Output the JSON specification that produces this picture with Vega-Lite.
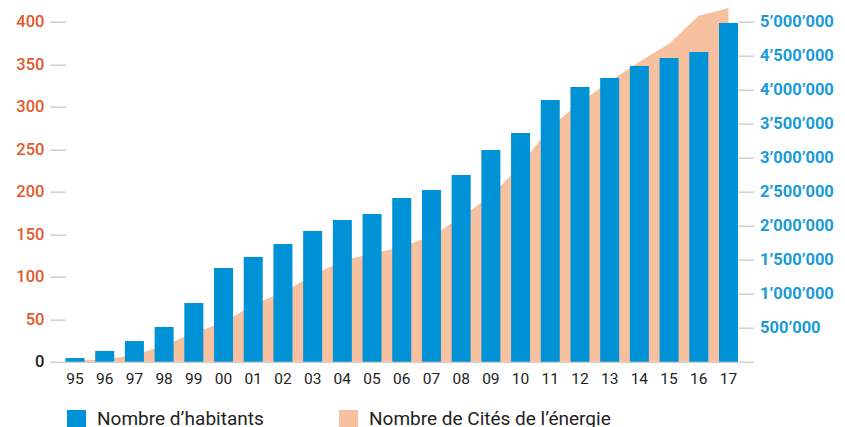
{
  "$schema": "https://vega.github.io/schema/vega-lite/v6.json",
  "width": 672.5,
  "height": 340,
  "autosize": {"type": "none"},
  "padding": {"left": 65.5, "top": 21.7, "right": 107, "bottom": 65.3},
  "background": "white",
  "data": {
    "values": [
      {"annee": "95", "habitants": 54000, "cites": 1},
      {"annee": "96", "habitants": 157000, "cites": 3},
      {"annee": "97", "habitants": 304000, "cites": 8},
      {"annee": "98", "habitants": 510000, "cites": 19},
      {"annee": "99", "habitants": 863000, "cites": 34},
      {"annee": "00", "habitants": 1378000, "cites": 46},
      {"annee": "01", "habitants": 1540000, "cites": 67},
      {"annee": "02", "habitants": 1731000, "cites": 82},
      {"annee": "03", "habitants": 1922000, "cites": 101},
      {"annee": "04", "habitants": 2084000, "cites": 119},
      {"annee": "05", "habitants": 2172000, "cites": 127},
      {"annee": "06", "habitants": 2407000, "cites": 135},
      {"annee": "07", "habitants": 2525000, "cites": 148},
      {"annee": "08", "habitants": 2746000, "cites": 170},
      {"annee": "09", "habitants": 3113000, "cites": 195},
      {"annee": "10", "habitants": 3363000, "cites": 231},
      {"annee": "11", "habitants": 3849000, "cites": 276},
      {"annee": "12", "habitants": 4040000, "cites": 305},
      {"annee": "13", "habitants": 4172000, "cites": 330},
      {"annee": "14", "habitants": 4349000, "cites": 353},
      {"annee": "15", "habitants": 4466000, "cites": 374},
      {"annee": "16", "habitants": 4554000, "cites": 407},
      {"annee": "17", "habitants": 4981000, "cites": 416}
    ]
  },
  "encoding": {
    "x": {
      "field": "annee",
      "type": "ordinal",
      "sort": null,
      "scale": {"paddingInner": 0.36, "paddingOuter": 0},
      "axis": {
        "title": null,
        "labelAngle": 0,
        "ticks": false,
        "domainColor": "#cfcfcf",
        "domainWidth": 1.5,
        "labelFont": "Roboto",
        "labelFontSize": 15.5,
        "labelColor": "#222222",
        "labelPadding": 10
      }
    }
  },
  "layer": [
    {
      "mark": {"type": "area", "interpolate": "linear"},
      "encoding": {
        "y": {
          "field": "cites",
          "type": "quantitative",
          "scale": {"domain": [0, 400], "nice": false},
          "axis": {
            "title": null,
            "orient": "left",
            "values": [0, 50, 100, 150, 200, 250, 300, 350, 400],
            "grid": false,
            "domain": false,
            "tickSize": 15.5,
            "tickColor": "#cfcfcf",
            "tickWidth": 1.5,
            "labelPadding": 6,
            "labelFont": "Roboto",
            "labelFontSize": 16.5,
            "labelFontWeight": 500,
            "labelColor": {"condition": {"test": "datum.value == 0", "value": "#222222"}, "value": "#E2582B"}
          }
        },
        "color": {
          "datum": "Nombre de Cités de l’énergie",
          "scale": {
            "domain": ["Nombre d’habitants", "Nombre de Cités de l’énergie"],
            "range": ["#0092D6", "#F7C1A0"]
          }
        }
      }
    },
    {
      "mark": {"type": "bar"},
      "encoding": {
        "y": {
          "field": "habitants",
          "type": "quantitative",
          "scale": {"domain": [0, 5000000], "nice": false},
          "axis": {
            "title": null,
            "orient": "right",
            "values": [0, 500000, 1000000, 1500000, 2000000, 2500000, 3000000, 3500000, 4000000, 4500000, 5000000],
            "grid": false,
            "domain": false,
            "tickSize": 15.5,
            "tickColor": "#cfcfcf",
            "tickWidth": 1.5,
            "labelPadding": 6,
            "labelFont": "Roboto",
            "labelFontSize": 16.5,
            "labelFontWeight": "bold",
            "labelColor": "#1A9AD7",
            "labelExpr": "datum.value == 0 ? '' : replace(format(datum.value, ','), /,/g, '’')"
          }
        },
        "color": {"datum": "Nombre d’habitants"}
      }
    }
  ],
  "resolve": {"scale": {"y": "independent"}},
  "config": {
    "view": {"stroke": null},
    "legend": {
      "title": null,
      "orient": "none",
      "legendX": 1.5,
      "legendY": 388,
      "direction": "horizontal",
      "symbolType": "square",
      "symbolSize": 361,
      "symbolStrokeWidth": 0,
      "symbolOpacity": 1,
      "labelFont": "Roboto",
      "labelFontSize": 19,
      "labelColor": "#222222",
      "labelOffset": 11,
      "columnPadding": 75,
      "labelLimit": 400
    }
  }
}
